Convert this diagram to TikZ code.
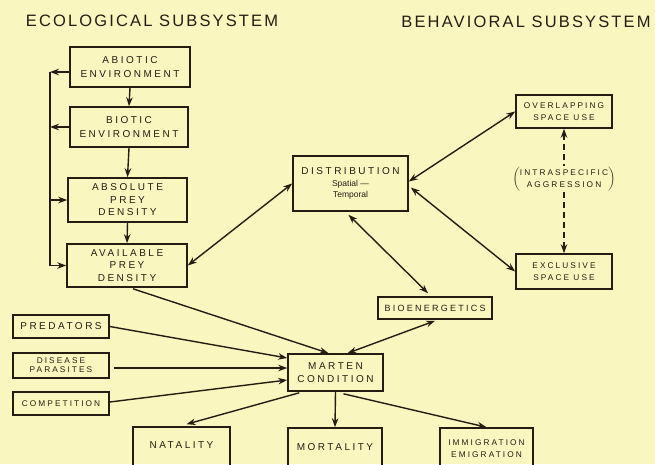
\documentclass[tikz,border=0pt]{standalone}
\usepackage{fontspec}
\setmainfont{Liberation Sans}
\newfontfamily\boxfont[LetterSpace=25]{Liberation Sans}
\newfontfamily\titlefont[LetterSpace=13]{Liberation Sans}
\newfontfamily\handfont{Liberation Sans}
\usetikzlibrary{arrows.meta,calc}
\definecolor{paper}{RGB}{250,246,192}
\definecolor{ink}{RGB}{40,28,18}
\tikzset{
  box/.style={draw=ink, line width=1.6pt, text=ink, inner sep=0pt, align=center,
    font=\boxfont\fontsize{10}{13.5}\selectfont},
  smalltext/.style={font=\boxfont\fontsize{8.3}{12}\selectfont},
  titletext/.style={text=ink, inner sep=0pt, font=\titlefont\fontsize{16.5}{18}\selectfont},
  tip/.tip={Stealth[length=9pt,width=6.5pt]},
  conn/.style={draw=ink, line width=1.4pt, -tip},
  both/.style={draw=ink, line width=1.4pt, tip-tip},
  bus/.style={draw=ink, line width=1.4pt},
  dashconn/.style={draw=ink, line width=1.4pt, dash pattern=on 6pt off 4pt}
}
\begin{document}
\begin{tikzpicture}[x=1pt,y=-1pt]
\path[fill=paper] (0,0) rectangle (655,464);
\useasboundingbox (0,0) rectangle (655,464);
\clip (0,0) rectangle (655,464);

% titles
\node[titletext] (ecotitle) at (152,21) {ECOLOGICAL SUBSYSTEM};
\node[titletext] (behtitle) at (526,22) {BEHAVIORAL SUBSYSTEM};

% ecological column
\node[box, minimum width=120pt, minimum height=40pt] (abiotic) at (130,67) {ABIOTIC\\ENVIRONMENT};
\node[box, minimum width=118pt, minimum height=40pt] (biotic) at (129,127) {BIOTIC\\ENVIRONMENT};
\node[box, minimum width=119pt, minimum height=44pt] (absolute) at (127.5,200) {ABSOLUTE\\[-1pt]PREY\\[-1pt]DENSITY};
\node[box, minimum width=120pt, minimum height=43pt] (available) at (127,265.5) {AVAILABLE\\[-1pt]PREY\\[-1pt]DENSITY};

% behavioral
\node[box, minimum width=115pt, minimum height=55pt] (distribution) at (350.5,183.5)
  {DISTRIBUTION\\[-2pt]{\handfont\fontsize{8.5}{10}\selectfont Spatial —}\\[-2pt]{\handfont\fontsize{8.5}{10}\selectfont Temporal}};
\node[box, smalltext, minimum width=96pt, minimum height=33pt] (overlapping) at (564,111.5) {OVERLAPPING\\SPACE USE};
\node[box, smalltext, minimum width=96pt, minimum height=35pt] (exclusive) at (564,271.5) {EXCLUSIVE\\SPACE USE};
\node[text=ink, smalltext, inner sep=1pt] (aggression) at (564,179)
  {$\left(\vcenter{\hbox{\begin{tabular}{@{}c@{}}\boxfont\fontsize{8.3}{11}\selectfont INTRASPECIFIC\\\boxfont\fontsize{8.3}{11}\selectfont AGGRESSION\end{tabular}}}\right)$};

% centre
\node[box, font=\boxfont\fontsize{9}{12}\selectfont, minimum width=114pt, minimum height=22pt] (bioenergetics) at (435,308) {BIOENERGETICS};
\node[box, minimum width=95pt, minimum height=37pt] (marten) at (335.5,372.5) {MARTEN\\CONDITION};

% left factors
\node[box, minimum width=96pt, minimum height=23pt] (predators) at (61,326.5) {PREDATORS};
\node[box, smalltext, minimum width=96pt, minimum height=25pt] (disease) at (61,365.5) {DISEASE\\[-3pt]PARASITES};
\node[box, smalltext, minimum width=96pt, minimum height=23pt] (competition) at (61,403.5) {COMPETITION};

% outcomes (cut by lower edge)
\node[box, minimum width=97pt, minimum height=43pt] (natality) at (181.5,448.5) {\raisebox{6pt}{NATALITY}};
\node[box, minimum width=94pt, minimum height=43pt] (mortality) at (335,449.5) {\raisebox{5pt}{MORTALITY}};
\node[box, smalltext, minimum width=93pt, minimum height=43pt] (immigration) at (486.5,449.5)
  {\raisebox{3pt}{\begin{tabular}{@{}c@{}}IMMIGRATION\\EMIGRATION\end{tabular}}};

% feedback bus on the left
\coordinate (b1) at (50,72);
\coordinate (b4) at (50,265.5);
\draw[conn] ($(abiotic.west)+(0,5)$) -- (b1);
\draw[conn] (biotic.west) -- (biotic.west -| b1);
\draw[bus] (b1) -- (b4);
\draw[conn] (absolute.west -| b1) -- (absolute.west);
\draw[conn] (b4) -- (available.west);

% vertical chain
\draw[conn] (abiotic.south) -- (biotic.north);
\draw[conn] (biotic.south) -- (absolute.north);
\draw[conn] (absolute.south) -- (available.north);

% distribution links
\draw[both] (available.east) -- (distribution.west);
\draw[both] ($(distribution.east)+(0,-2)$) -- (overlapping.west);
\draw[both] ($(distribution.east)+(2,4)$) -- (exclusive.west);
\draw[both] ($(distribution.south)+(-2,3)$) -- ($(bioenergetics.north)+(-7,-3)$);
\draw[dashconn, tip-] (overlapping.south) -- (aggression.north);
\draw[dashconn, -tip] (aggression.south) -- (exclusive.north);

% into marten condition
\draw[conn] ($(available.south)+(6,1)$) -- ($(marten.north)+(-7,0)$);
\draw[both] ($(marten.north)+(12,0)$) -- ($(bioenergetics.south)+(0,1)$);
\draw[conn] (predators.east) -- ($(marten.west)+(0,-14.5)$);
\draw[conn] ($(disease.east)+(4,2.5)$) -- ($(marten.west)+(0,-4.5)$);
\draw[conn] ($(competition.east)+(0,-1.5)$) -- ($(marten.west)+(0,7.5)$);

% out of marten condition
\draw[conn] ($(marten.south west)+(12,1)$) -- ($(natality.north)+(5,-2)$);
\draw[conn] (marten.south) -- (mortality.north);
\draw[conn] ($(marten.south)+(8,2)$) -- (immigration.north);
\end{tikzpicture}
\end{document}
